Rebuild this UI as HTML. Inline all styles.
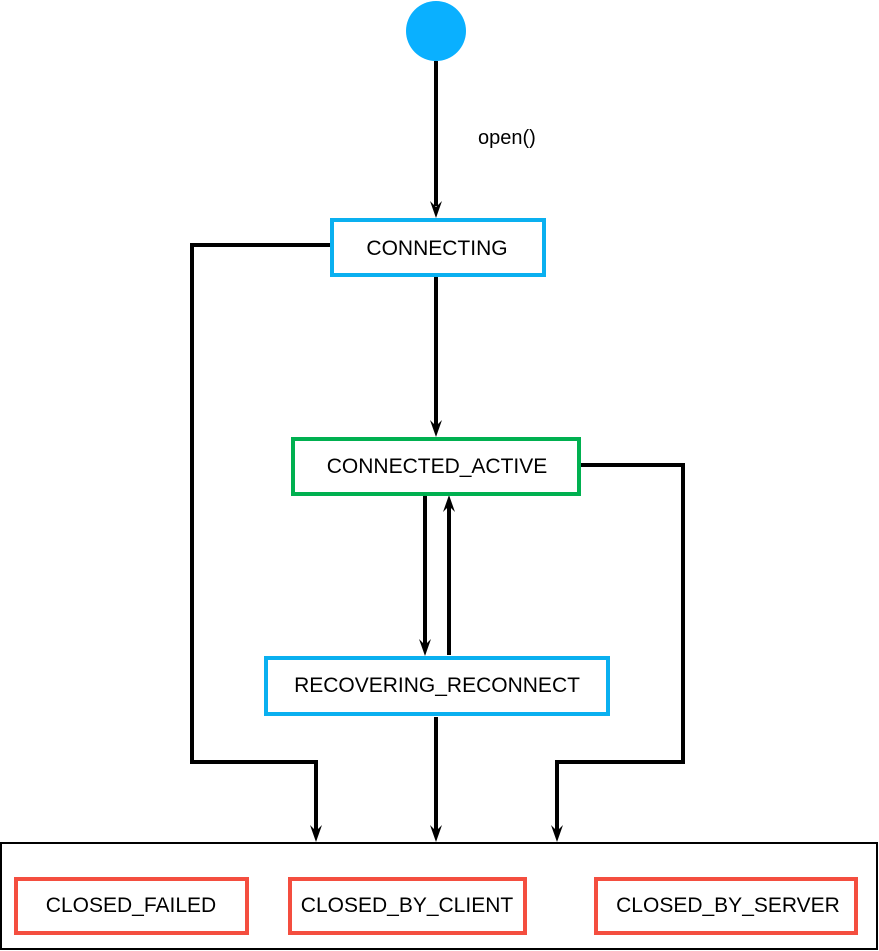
<!DOCTYPE html>
<html><head><style>body{margin:0;background:#fff}svg{display:block}text{font-family:"Liberation Sans",sans-serif;font-size:21px;fill:#000}</style></head><body>
<svg width="879" height="951" viewBox="0 0 879 951">
<circle cx="436" cy="31" r="30" fill="#0ab0ff"/>
<g stroke="#000" stroke-width="4" fill="none">
<path d="M436 61 V206"/>
<path d="M436 277 V426"/>
<path d="M330 245 H192 V762 H316 V831"/>
<path d="M425 496 V645"/>
<path d="M449 655 V506"/>
<path d="M580 465 H683 V762 H557 V831"/>
<path d="M436 717 V831"/>
</g>
<g fill="#000">
<path d="M430 201 L436 218 L442 201 L436 207 Z"/>
<path d="M430 420 L436 437 L442 420 L436 426 Z"/>
<path d="M310 825 L316 842 L322 825 L316 831 Z"/>
<path d="M430 825 L436 842 L442 825 L436 831 Z"/>
<path d="M551 825 L557 842 L563 825 L557 831 Z"/>
<path d="M419 639 L425 656 L431 639 L425 645 Z"/>
<path d="M443 512 L449 495 L455 512 L449 506 Z"/>
</g>
<text x="478" y="144" style="font-size:20px">open()</text>
<rect x="1" y="843" width="876" height="106" fill="none" stroke="#000" stroke-width="2"/>
<rect x="332" y="220" width="212" height="55" fill="#fff" stroke="#0ab0f0" stroke-width="4"/>
<text x="437" y="255" text-anchor="middle">CONNECTING</text>
<rect x="293" y="439" width="286" height="55" fill="#fff" stroke="#00b050" stroke-width="4"/>
<text x="437" y="473" text-anchor="middle">CONNECTED_ACTIVE</text>
<rect x="266" y="658" width="342" height="56" fill="#fff" stroke="#0ab0f0" stroke-width="4"/>
<text x="437" y="692" text-anchor="middle">RECOVERING_RECONNECT</text>
<g fill="#fff" stroke="#f44e3f" stroke-width="4">
<rect x="16" y="879" width="231" height="54"/>
<rect x="290" y="879" width="235" height="54"/>
<rect x="596" y="879" width="260" height="54"/>
</g>
<text x="131" y="912" text-anchor="middle">CLOSED_FAILED</text>
<text x="407" y="912" text-anchor="middle">CLOSED_BY_CLIENT</text>
<text x="728" y="912" text-anchor="middle">CLOSED_BY_SERVER</text>
</svg>
</body></html>
